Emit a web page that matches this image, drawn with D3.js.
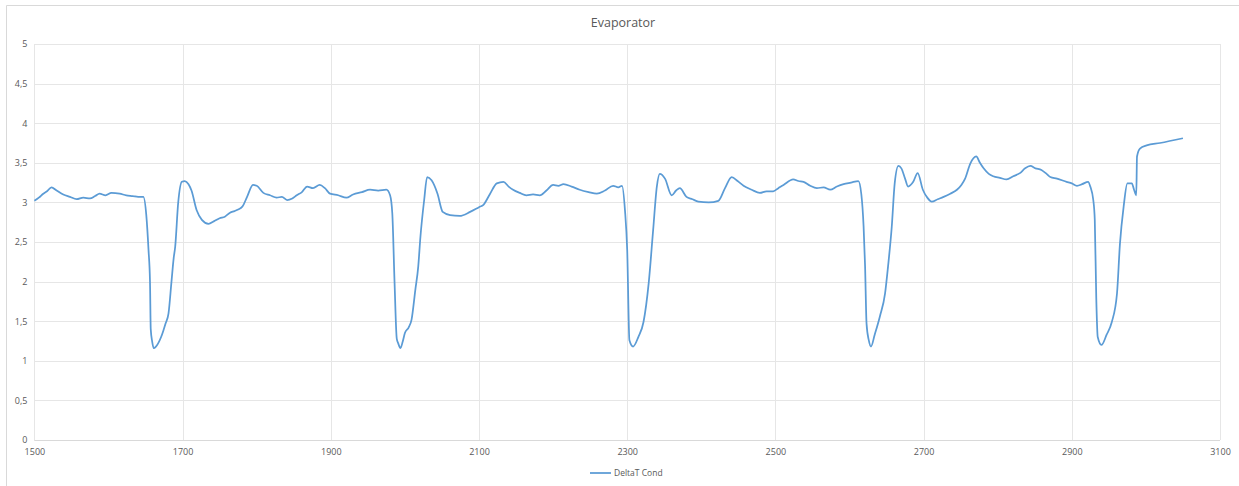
<!DOCTYPE html>
<html>
<head>
<meta charset="utf-8">
<script src="https://cdn.jsdelivr.net/npm/d3@7"></script>
<style>
  body { margin: 0; background: #fff; }
  text { font-family: "Open Sans", sans-serif; fill: #595959; }
</style>
</head>
<body>
<div id="chart"></div>
<script>
// readings: time (x) and DeltaT Cond (y)
var timeVals = [
  1500, 1506, 1512, 1517, 1523, 1530, 1539, 1548, 1557, 1566, 1575, 1582, 1588, 1596, 1604, 1615, 1624, 1633, 1640, 1647,
  1651, 1654, 1656, 1657, 1659, 1661, 1664, 1667, 1671, 1674, 1677, 1681, 1685, 1688, 1690, 1694, 1699, 1703, 1708, 1712,
  1719, 1726, 1735, 1742, 1750, 1757, 1764, 1770, 1775, 1781, 1787, 1795, 1800, 1809, 1818, 1827, 1834, 1841, 1848, 1854,
  1861, 1868, 1876, 1885, 1892, 1899, 1910, 1921, 1930, 1942, 1953, 1964, 1975, 1980, 1983, 1986, 1989, 1991, 1994, 1997,
  2000, 2005, 2009, 2014, 2018, 2021, 2026, 2030, 2036, 2044, 2051, 2061, 2074, 2088, 2100, 2106, 2115, 2124, 2133, 2140,
  2146, 2155, 2164, 2173, 2182, 2191, 2200, 2207, 2214, 2225, 2236, 2248, 2259, 2270, 2281, 2288, 2293, 2297, 2300, 2303,
  2308, 2315, 2322, 2329, 2335, 2340, 2344, 2351, 2360, 2366, 2371, 2380, 2388, 2396, 2410, 2423, 2432, 2441, 2449, 2457,
  2468, 2479, 2488, 2497, 2504, 2511, 2524, 2531, 2538, 2547, 2556, 2565, 2574, 2583, 2592, 2602, 2612, 2616, 2619, 2621,
  2623, 2626, 2629, 2634, 2641, 2648, 2652, 2657, 2661, 2666, 2670, 2675, 2679, 2686, 2692, 2699, 2705, 2711, 2719, 2727,
  2736, 2745, 2751, 2756, 2763, 2771, 2776, 2781, 2788, 2794, 2803, 2812, 2821, 2830, 2837, 2844, 2851, 2859, 2866, 2871,
  2880, 2893, 2900, 2907, 2914, 2922, 2925, 2929, 2931, 2933, 2935, 2940, 2947, 2954, 2961, 2965, 2970, 2975, 2981, 2984,
  2987, 2988, 2992, 3001, 3019, 3050
];
var deltaTVals = [
  3.02, 3.06, 3.11, 3.14, 3.19, 3.15, 3.10, 3.07, 3.04, 3.06, 3.05, 3.08, 3.11, 3.09, 3.12, 3.11, 3.09, 3.08, 3.07, 3.07,
  2.84, 2.40, 2.00, 1.40, 1.24, 1.16, 1.18, 1.22, 1.30, 1.38, 1.47, 1.60, 2.00, 2.30, 2.44, 2.99, 3.26, 3.27, 3.23, 3.15,
  2.90, 2.78, 2.73, 2.76, 2.80, 2.82, 2.87, 2.89, 2.91, 2.95, 3.07, 3.22, 3.21, 3.12, 3.09, 3.06, 3.07, 3.03, 3.05, 3.09,
  3.13, 3.20, 3.18, 3.22, 3.18, 3.11, 3.09, 3.06, 3.10, 3.13, 3.16, 3.15, 3.16, 3.09, 2.86, 2.00, 1.28, 1.22, 1.16, 1.24,
  1.35, 1.42, 1.52, 1.89, 2.19, 2.57, 3.03, 3.32, 3.28, 3.11, 2.88, 2.84, 2.83, 2.88, 2.94, 2.97, 3.11, 3.24, 3.26, 3.20,
  3.16, 3.12, 3.09, 3.10, 3.09, 3.15, 3.22, 3.21, 3.23, 3.20, 3.16, 3.13, 3.11, 3.15, 3.21, 3.19, 3.21, 2.90, 2.40, 1.26,
  1.18, 1.30, 1.49, 1.98, 2.65, 3.20, 3.36, 3.30, 3.09, 3.15, 3.18, 3.07, 3.04, 3.01, 3.00, 3.02, 3.18, 3.32, 3.27, 3.21,
  3.16, 3.12, 3.14, 3.14, 3.18, 3.22, 3.29, 3.27, 3.26, 3.21, 3.18, 3.19, 3.16, 3.20, 3.23, 3.25, 3.27, 3.10, 2.70, 2.20,
  1.47, 1.26, 1.18, 1.33, 1.56, 1.85, 2.19, 2.69, 3.24, 3.46, 3.43, 3.30, 3.20, 3.26, 3.37, 3.16, 3.06, 3.01, 3.04, 3.07,
  3.11, 3.16, 3.22, 3.30, 3.49, 3.58, 3.50, 3.43, 3.36, 3.33, 3.31, 3.29, 3.33, 3.37, 3.43, 3.46, 3.43, 3.41, 3.36, 3.32,
  3.30, 3.26, 3.24, 3.21, 3.23, 3.26, 3.20, 3.03, 2.78, 1.80, 1.30, 1.20, 1.33, 1.49, 1.85, 2.48, 2.95, 3.24, 3.24, 3.16,
  3.09, 3.58, 3.68, 3.72, 3.75, 3.81
];
var xTicks = [1500, 1700, 1900, 2100, 2300, 2500, 2700, 2900, 3100];
var yTicks = [0, 0.5, 1, 1.5, 2, 2.5, 3, 3.5, 4, 4.5, 5];
var seriesName = "DeltaT Cond";
var chartTitle = "Evaporator";

var width = 1239, height = 486;
var margin = {top: 44, right: 19, bottom: 46, left: 34.4};

var svg = d3.select("#chart")
    .append("svg")
    .attr("width", width)
    .attr("height", height);

// outer chart frame (only top and left edges are in view)
svg.append("path")
    .attr("d", "M6.5," + height + "V5.5H" + width)
    .attr("fill", "none")
    .attr("stroke", "#d9d9d9")
    .attr("stroke-width", 1);

var x = d3.scaleLinear().domain([1500, 3100]).range([margin.left, width - margin.right]);
var y = d3.scaleLinear().domain([0, 5]).range([height - margin.bottom, margin.top]);

var fmt = function (d) { return String(d).replace(".", ","); };

// gridlines
svg.append("g")
    .selectAll("line.h")
    .data(yTicks)
    .enter()
    .append("line")
    .attr("x1", x(1500))
    .attr("x2", x(3100))
    .attr("y1", function (d) { return Math.round(y(d)) + 0.5; })
    .attr("y2", function (d) { return Math.round(y(d)) + 0.5; })
    .attr("stroke", "#e6e6e6")
    .attr("stroke-width", 1);

svg.append("g")
    .selectAll("line.v")
    .data(xTicks)
    .enter()
    .append("line")
    .attr("y1", y(0))
    .attr("y2", y(5))
    .attr("x1", function (d) { return Math.round(x(d)) + 0.5; })
    .attr("x2", function (d) { return Math.round(x(d)) + 0.5; })
    .attr("stroke", "#e6e6e6")
    .attr("stroke-width", 1);

// axes, drawn without domain and ticks, just labels
var yAxis = d3.axisLeft(y).tickValues(yTicks).tickSize(0).tickPadding(7).tickFormat(fmt);
var gy = svg.append("g")
    .attr("transform", "translate(" + margin.left + ",0)")
    .call(yAxis);
gy.select(".domain").remove();
gy.selectAll("text")
    .style("font-family", "'Open Sans', sans-serif")
    .style("font-size", "9px")
    .attr("fill", "#595959");

var xAxis = d3.axisBottom(x).tickValues(xTicks).tickSize(0).tickPadding(9).tickFormat(d3.format("d"));
var gx = svg.append("g")
    .attr("transform", "translate(0," + y(0) + ")")
    .call(xAxis);
gx.select(".domain").remove();
gx.selectAll("text")
    .style("font-family", "'Open Sans', sans-serif")
    .style("font-size", "9px")
    .attr("fill", "#595959");

// x axis baseline is a bit darker
svg.append("line")
    .attr("x1", x(1500))
    .attr("x2", x(3100))
    .attr("y1", Math.round(y(0)) + 0.5)
    .attr("y2", Math.round(y(0)) + 0.5)
    .attr("stroke", "#d9d9d9");

// series
var points = timeVals.map(function (t, i) { return [t, deltaTVals[i]]; });
var line = d3.line()
    .x(function (d) { return x(d[0]); })
    .y(function (d) { return y(d[1]); })
    .curve(d3.curveMonotoneX);

svg.append("path")
    .datum(points)
    .attr("d", line)
    .attr("fill", "none")
    .attr("stroke", "#5b9bd5")
    .attr("stroke-width", 1.75)
    .attr("stroke-linejoin", "round");

// title
svg.append("text")
    .attr("x", 623)
    .attr("y", 27)
    .attr("text-anchor", "middle")
    .style("font-size", "12.5px")
    .text(chartTitle);

// legend
svg.append("line")
    .attr("x1", 590)
    .attr("x2", 611)
    .attr("y1", 473)
    .attr("y2", 473)
    .attr("stroke", "#5b9bd5")
    .attr("stroke-width", 1.75);

svg.append("text")
    .attr("x", 614)
    .attr("y", 476)
    .style("font-size", "8.5px")
    .text(seriesName);
</script>
</body>
</html>
